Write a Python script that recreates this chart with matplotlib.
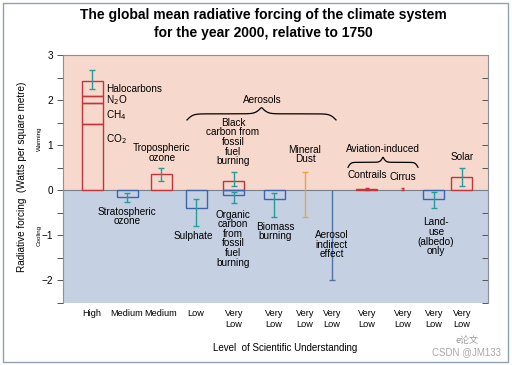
import numpy as np
import matplotlib
matplotlib.use('Agg')
import matplotlib.pyplot as plt
from matplotlib.ticker import MultipleLocator

plt.rcParams['font.family'] = ['Liberation Sans', 'DejaVu Sans']

# greenhouse gas stack (CO2, CH4, N2O, halocarbons), W/m2
ghg_names = ['CO$_2$', 'CH$_4$', 'N$_2$O', 'Halocarbons']
ghg_parts = [1.46, 0.48, 0.15, 0.34]
ghg_err = [2.25, 2.67]

# single bars
bar_names = ['Stratospheric ozone', 'Tropospheric ozone', 'Sulphate', 'Black carbon',
             'Organic carbon', 'Biomass burning', 'Contrails', 'Land-use', 'Solar']
bar_vals = [-0.15, 0.35, -0.4, 0.2, -0.1, -0.2, 0.02, -0.2, 0.3]
bar_lo = [-0.25, 0.2, -0.8, 0.1, -0.28, -0.6, 0.005, -0.4, 0.1]
bar_hi = [-0.05, 0.5, -0.2, 0.4, -0.04, -0.07, 0.05, -0.04, 0.5]

# range-only items
rng_names = ['Mineral Dust', 'Aerosol indirect effect', 'Cirrus']
rng_lo = [-0.6, -2.0, 0.0]
rng_hi = [0.4, 0.0, 0.05]

# level of scientific understanding, one label per column
lsu_labels = ['High', 'Medium', 'Medium', 'Low', 'Very\nLow', 'Very\nLow', 'Very\nLow',
              'Very\nLow', 'Very\nLow', 'Very\nLow', 'Very\nLow', 'Very\nLow']

# column positions (layout)
col_x = [29, 64, 98, 133, 171, 211, 242, 269, 304, 340, 371, 399]
bar_x = [64, 98, 133, 171, 171, 211, 304, 371, 399]
rng_x = [242, 269, 340]
ghg_x = 29
W = 21

PINK = '#f7d8cc'
BLUE = '#c5d0e3'
RED = '#c4343c'
DBLUE = '#3d64a8'
TEAL = '#2a9b98'

fig = plt.figure(figsize=(5.12, 3.65), dpi=100)
fig.patch.set_facecolor('white')
# outer frame
fig.add_artist(plt.Rectangle((3 / 512, 3 / 365), 505 / 512, 359 / 365, transform=fig.transFigure,
                             fill=False, edgecolor='#8fa2b5', lw=1.0))

ax = fig.add_axes([63 / 512, 1 - 303 / 365, 425 / 512, 248 / 365])
ax.set_xlim(0, 425)
ax.set_ylim(-2.5, 3)
ax.axhspan(0, 3, color=PINK, zorder=0)
ax.axhspan(-2.5, 0, color=BLUE, zorder=0)
ax.axhline(0, color='#7a7f8a', lw=0.8, zorder=1)

# greenhouse gases stack
bottom = 0
for v in ghg_parts:
    ax.bar(ghg_x, v, W, bottom=bottom, fill=False, edgecolor=RED, lw=1.0, zorder=2)
    bottom += v
ax.errorbar(ghg_x, np.mean(ghg_err), yerr=(ghg_err[1] - ghg_err[0]) / 2, color=TEAL,
            lw=1, capsize=2.5, zorder=3)

for x, v, lo, hi in zip(bar_x, bar_vals, bar_lo, bar_hi):
    ec = RED if v > 0 else DBLUE
    ax.bar(x, v, W, fill=False, edgecolor=ec, lw=1.0, zorder=2)
    c = RED if abs(v) < 0.05 else TEAL
    cs = 1.5 if abs(v) < 0.05 else 2.5
    ax.errorbar(x, (lo + hi) / 2, yerr=(hi - lo) / 2, color=c, lw=1, capsize=cs, zorder=3)

rng_cols = ['#e8a446', '#52719f', RED]
rng_caps = [3, 3, 1.5]
for x, lo, hi, c, cw in zip(rng_x, rng_lo, rng_hi, rng_cols, rng_caps):
    ax.vlines(x, lo, hi, color=c, lw=1.0, zorder=3)
    ax.hlines(lo, x - cw, x + cw, color=c, lw=1.0, zorder=3)
    if hi > 0:
        ax.hlines(hi, x - cw, x + cw, color=c, lw=1.0, zorder=3)


def brace(x0, x1, y, h):
    n = 200
    xs = np.linspace(x0, x1, n)
    u = np.linspace(0, 1, n // 2)
    beta = 25.0
    half = 1 / (1 + np.exp(-beta * u)) + 1 / (1 + np.exp(-beta * (u - 1))) - 0.5
    ys = np.concatenate([half, half[::-1]])
    ax.plot(xs, y + h * ys, color='black', lw=0.9, zorder=3)


brace(124, 273, 1.56, 0.27)
brace(285, 355, 0.51, 0.22)

fs = 7.2
ax.text(43, 2.24, 'Halocarbons', fontsize=fs, va='center')
ax.text(43, 2.0, 'N$_2$O', fontsize=fs, va='center')
ax.text(43, 1.67, 'CH$_4$', fontsize=fs, va='center')
ax.text(43, 1.13, 'CO$_2$', fontsize=fs, va='center')
ax.text(99, 0.82, 'Tropospheric\nozone', fontsize=fs, ha='center', va='center', linespacing=0.95)
ax.text(170, 1.07, 'Black\ncarbon from\nfossil\nfuel\nburning', fontsize=fs, ha='center',
        va='center', linespacing=0.95)
ax.text(199, 2.0, 'Aerosols', fontsize=fs, ha='center', va='center')
ax.text(242, 0.79, 'Mineral\nDust', fontsize=fs, ha='center', va='center', linespacing=0.95)
ax.text(320, 0.91, 'Aviation-induced', fontsize=fs, ha='center', va='center')
ax.text(304, 0.33, 'Contrails', fontsize=fs, ha='center', va='center')
ax.text(340, 0.29, 'Cirrus', fontsize=fs, ha='center', va='center')
ax.text(399, 0.73, 'Solar', fontsize=fs, ha='center', va='center')
ax.text(64, -0.58, 'Stratospheric\nozone', fontsize=fs, ha='center', va='center', linespacing=0.95)
ax.text(130, -1.02, 'Sulphate', fontsize=fs, ha='center', va='center')
ax.text(170, -1.07, 'Organic\ncarbon\nfrom\nfossil\nfuel\nburning', fontsize=fs, ha='center',
        va='center', linespacing=0.95)
ax.text(212, -0.91, 'Biomass\nburning', fontsize=fs, ha='center', va='center', linespacing=0.95)
ax.text(269, -1.21, 'Aerosol\nindirect\neffect', fontsize=fs, ha='center', va='center',
        linespacing=0.95)
ax.text(373, -1.03, 'Land-\nuse\n(albedo)\nonly', fontsize=fs, ha='center', va='center',
        linespacing=0.95)

# axes styling
for s in ax.spines.values():
    s.set_color('#8a8f98')
    s.set_linewidth(0.8)
ax.spines['bottom'].set_visible(False)
ax.yaxis.set_major_locator(MultipleLocator(1))
ax.yaxis.set_minor_locator(MultipleLocator(0.5))
ax.tick_params(axis='y', which='both', length=4, width=0.7, color='#555555', labelsize=7.2,
               pad=3)
ax.set_yticks(np.arange(-2, 4, 1))
ax.set_yticklabels(['\u22122', '\u22121', '0', '1', '2', '3'])
# right-hand ticks point inwards, no labels
sec = ax.secondary_yaxis('right')
sec.yaxis.set_major_locator(MultipleLocator(0.5))
sec.tick_params(direction='in', length=4, width=0.7, color='#555555', labelright=False)
sec.spines['right'].set_visible(False)
ax.set_xticks(col_x)
ax.set_xticklabels(lsu_labels, fontsize=6.6, va='top', linespacing=1.3)
ax.tick_params(axis='x', length=0, pad=4)

fig.text(22 / 512, 1 - 177 / 365, 'Radiative forcing  (Watts per square metre)', rotation=90,
         fontsize=7.2, ha='center', va='center')
fig.text(39 / 512, 1 - 139 / 365, 'Warming', rotation=90, fontsize=4.5, ha='center', va='center')
fig.text(39 / 512, 1 - 235 / 365, 'Cooling', rotation=90, fontsize=4.5, ha='center', va='center')
fig.text(285 / 512, 1 - 348 / 365, 'Level  of Scientific Understanding', fontsize=7,
         ha='center', va='center')

fig.text(263 / 512, 1 - 15 / 365, 'The global mean radiative forcing of the climate system',
         fontsize=10, fontweight='bold', ha='center', va='center')
fig.text(263 / 512, 1 - 33 / 365, 'for the year 2000, relative to 1750',
         fontsize=10, fontweight='bold', ha='center', va='center')

# watermark
fig.text(467 / 512, 1 - 341 / 365, 'e论文', fontsize=6.5, color='#9a9a9a', ha='center',
         va='center', family=['Noto Sans CJK SC', 'DejaVu Sans'])
fig.text(466 / 512, 1 - 352 / 365, 'CSDN @JM133', fontsize=7, color='#a8a8a8', ha='center',
         va='center')

fig.savefig('out.png', dpi=100)
